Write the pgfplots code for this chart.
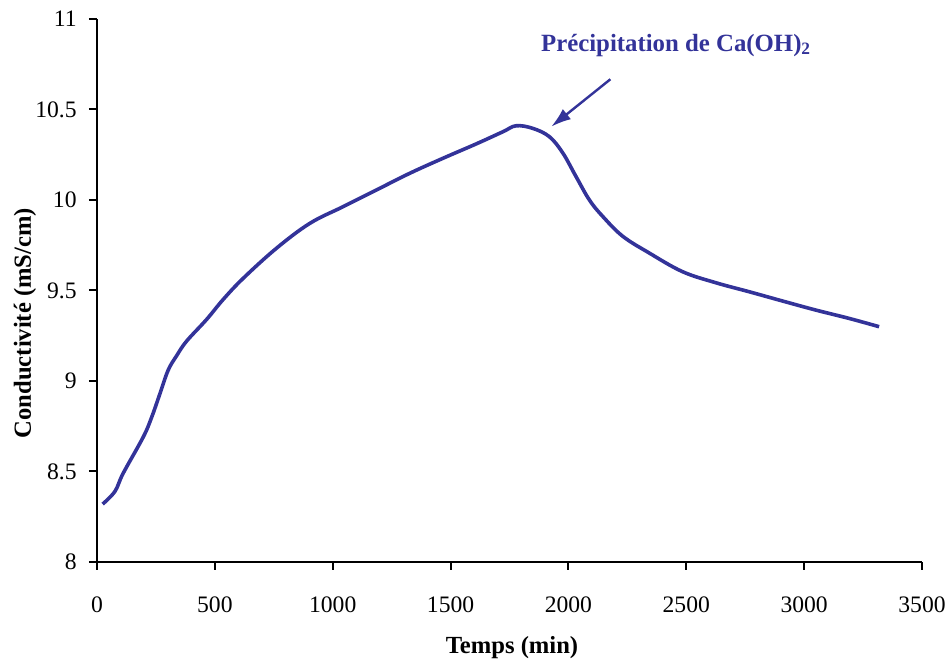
\documentclass[border=0pt]{standalone}
\usepackage{fontspec}
\setmainfont{Liberation Serif}
\usepackage{pgfplots}
\pgfplotsset{compat=1.18}
\usetikzlibrary{arrows.meta}
\definecolor{navy}{RGB}{51,51,153}
\begin{document}
\begin{tikzpicture}
\begin{axis}[
  name=ax,
  scale only axis,
  width=412.5pt, height=271.5pt,
  xmin=0, xmax=3500, ymin=8, ymax=11,
  axis x line*=bottom, axis y line*=left,
  axis line style={line width=1pt},
  xtick={0,500,...,3500},
  ytick={8,8.5,...,11},
  tick align=outside,
  major tick length=4pt,
  tick style={line width=1pt, black},
  scaled ticks=false,
  /pgf/number format/assume math mode=true,
  /pgf/number format/1000 sep={},
  ticklabel style={font=\fontsize{11.8}{13}\selectfont},
  yticklabel style={anchor=east, inner sep=0pt, xshift=-6pt},
  xticklabel style={anchor=north, inner sep=0pt, yshift=-13pt},
  xlabel={\textbf{Temps (min)}},
  ylabel={\textbf{Conductivité (mS/cm)}},
  label style={font=\fontsize{12.3}{14}\selectfont},
  xlabel style={at={(axis description cs:0.503,0)}, anchor=center, yshift=-43pt},
  ylabel style={at={(axis description cs:-0.0873,0.44)}, anchor=center},
  clip=false,
]
\addplot[navy, line width=1.8pt, smooth, tension=0.6] coordinates {
(24,8.32) (76,8.39) (111,8.49) (196,8.69) (232,8.80) (267,8.93) (302,9.06)
(338,9.14) (380,9.22) (465,9.34) (535,9.45) (620,9.567) (761,9.733)
(903,9.871) (1044,9.963) (1185,10.055) (1326,10.147) (1467,10.23)
(1609,10.31) (1722,10.377) (1778,10.41) (1848,10.396) (1919,10.35)
(1976,10.26) (2032,10.13) (2089,10.00) (2145,9.91) (2230,9.80)
(2343,9.707) (2484,9.604) (2625,9.543) (2767,9.493) (2908,9.442)
(3049,9.392) (3190,9.346) (3318,9.30)
};
\draw[navy, line width=1.2pt, -{Latex[length=10pt,width=6.5pt]}] (axis cs:2178,10.667) -- (axis cs:1927,10.405);
\node[navy, font=\fontsize{12.4}{14}\selectfont\bfseries] at (axis cs:2457,10.856) {Précipitation de Ca(OH)$_{\mathbf{2}}$};
\end{axis}
\pgfresetboundingbox
\path ([shift={(-48.5pt,-50pt)}]ax.south west) rectangle ([shift={(14.5pt,9.5pt)}]ax.north east);
\end{tikzpicture}
\end{document}
